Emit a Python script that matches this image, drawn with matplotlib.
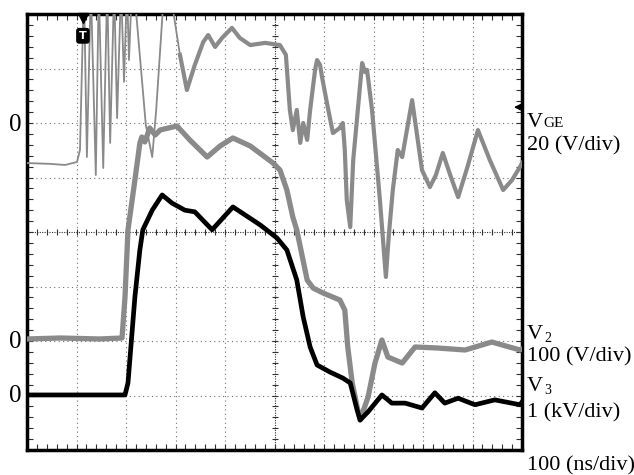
import numpy as np
import matplotlib
matplotlib.use('Agg')
import matplotlib.pyplot as plt

# oscilloscope capture, 100 ns/div, 10 x 8 divisions
# time in ns, voltages in V (V3 in kV)
vge_t = [0, 47, 77, 101, 107, 115, 121, 129, 139, 145, 154, 162, 168, 176, 182, 190, 196, 202, 206, 212,
         216, 240, 253, 261, 275, 285, 295, 309, 323, 339, 356, 366, 380, 394, 414, 430, 451, 481, 511, 523,
         531, 537, 545, 552, 558, 566, 572, 582, 586, 592, 596, 606, 618, 632, 638, 642, 646, 653, 659, 667,
         677, 683, 687, 697, 713, 725, 731, 739, 749, 758, 778, 798, 814, 826, 840, 855, 871, 891, 911, 935,
         962, 980, 996, 1000]
vge_v = [-14.7, -15.0, -15.4, -14.3, -9.9, 50, -12.5, 50, -19.1, 50, -16.5, 50, -7.3, 50, 1.8, 50, 15.1, 50, 23.1, 50,
         50, -0.7, -12.5, 4.8, 43.3, 50, 41.5, 25, 12.1, 21.3, 29.7, 32.3, 27.9, 31.2, 34.9, 31.2, 28.6, 29.4, 28.6, 25,
         4.8, -2.6, 4.8, -7.3, 0, -6.2, 4.8, 19.5, 23.1, 21.3, 16.9, 7.3, -3.7, -1.8, 0, -9.9, -28.3, -38.2, -13.6, 2.2,
         22, 18.7, 19.5, 4.8, -28.3, -56.5, -41.1, -24.6, -9.9, -12.5, 8.4, -17.3, -23.5, -19.1, -11, -19.1, -27.2, -15.4, -2.6, -13.6,
         -24.6, -20.9, -16.1, -14.7]

v2_t = [0, 67, 147, 192, 198, 204, 218, 228, 232, 238, 248, 259, 269, 303, 329, 364, 390, 416, 451, 497,
        511, 525, 537, 545, 566, 578, 598, 632, 642, 648, 657, 667, 673, 689, 703, 717, 729, 758, 784, 830,
        885, 939, 996, 1000]
v2_v = [3.7, 5.5, 3.7, 5.5, 80.7, 203.7, 295.4, 363.3, 374.3, 365.2, 390.8, 378, 387.2, 394.5, 368.8, 337.6, 357.8, 372.5, 357.8, 326.6,
        313.8, 277.1, 227.5, 203.7, 111.9, 97.2, 88.1, 75.2, 56.9, -11, -77.1, -121.1, -145, -102.8, -40.4, 1.8, -29.4, -40.4, -11, -12.9,
        -16.5, -1.9, -16.5, -14.7]

v3_t = [0, 198, 204, 218, 228, 234, 253, 273, 293, 319, 339, 374, 416, 471, 505, 525, 545, 558, 572, 586,
        612, 638, 653, 667, 673, 689, 717, 737, 764, 798, 824, 844, 871, 905, 945, 996, 1000]
v3_kv = [0.01, 0.01, 0.23, 1.81, 2.67, 3.04, 3.40, 3.68, 3.53, 3.40, 3.37, 3.04, 3.46, 3.13, 2.89, 2.67, 2.12, 1.44, 0.89, 0.56,
         0.43, 0.32, 0.23, -0.27, -0.45, -0.30, 0.01, -0.14, -0.14, -0.23, 0.05, -0.14, -0.05, -0.17, -0.08, -0.17, -0.12]

# channel settings: volts per division, ground position in divisions
vge_scale, vge_pos = 20, 2
v2_scale, v2_pos = 100, -2
v3_scale, v3_pos = 1, -3

W, H = 634, 475
fig = plt.figure(figsize=(W / 100, H / 100), dpi=100)
L, R, T, B = 27, 522, 14, 450
ax = fig.add_axes([L / W, 1 - B / H, (R - L) / W, (B - T) / H])
ax.set_xlim(0, 1000)
ax.set_ylim(-4, 4)

# graticule
for k in range(1, 10):
    if k == 5:
        continue
    ax.axvline(k * 100, color='#707070', lw=0.8, ls=(0, (1, 3)), zorder=1)
for k in range(-3, 4):
    if k == 0:
        continue
    ax.axhline(k, color='#707070', lw=0.8, ls=(0, (1, 3)), zorder=1)
ax.axvline(500, color='#303030', lw=0.8, ls=(0, (1, 1.2)), zorder=1)
ax.axhline(0, color='#303030', lw=0.8, ls=(0, (1, 1.2)), zorder=1)
xt = np.arange(20, 1000, 20)
yt = np.arange(-3.8, 4, 0.2)
ax.plot(xt, np.zeros_like(xt), ls='none', marker='|', ms=5, mew=0.8, color='#303030', zorder=1)
ax.plot(np.full_like(yt, 500), yt, ls='none', marker='_', ms=5, mew=0.8, color='#303030', zorder=1)

ax.set_xticks(np.arange(0, 1001, 100))
ax.set_xticks(np.arange(0, 1001, 20), minor=True)
ax.set_yticks(np.arange(-4, 4.01, 1))
ax.set_yticks(np.arange(-4, 4.01, 0.2), minor=True)
ax.tick_params(which='both', direction='in', length=4, width=0.8, top=True, right=True,
               labelbottom=False, labelleft=False, color='#303030')
for s in ax.spines.values():
    s.set_linewidth(2.5)

gray = '#8a8a8a'
vge_div = np.array(vge_v) / vge_scale + vge_pos
split = vge_t.index(309)
ax.plot(vge_t[:split + 1], vge_div[:split + 1], color=gray, lw=1.3, zorder=3)
ax.plot(vge_t[split:], vge_div[split:], color=gray, lw=3.0, zorder=3, solid_joinstyle='round')
ax.plot(v2_t, np.array(v2_v) / v2_scale + v2_pos, color=gray, lw=3.8, zorder=3, solid_joinstyle='round')
ax.plot(v3_t, np.array(v3_kv) / v3_scale + v3_pos, color='black', lw=3.4, zorder=4, solid_joinstyle='round')

# trigger marker
ax.plot([113], [3.93], marker='v', ms=7, color='black', clip_on=False, zorder=6)
ax.text(113, 3.6, 'T', ha='center', va='center', color='white', fontsize=8, fontweight='bold',
        bbox=dict(boxstyle='round,pad=0.2', fc='black', ec='black'), zorder=6)
# trigger level arrow
ax.annotate('', xy=(978, 2.29), xytext=(1000, 2.29),
            arrowprops=dict(arrowstyle='-|>', color='black', lw=1.2, mutation_scale=9), zorder=6)

serif = 'Liberation Serif'
def ftext(x, y, s, size=16, **kw):
    fig.text(x / W, 1 - y / H, s, fontsize=size, family=serif, va='baseline', ha='left', **kw)

# ground markers
ftext(9, 131, '0', size=18)
ftext(9, 348, '0', size=18)
ftext(9, 402, '0', size=18)

ftext(527, 127, 'V', size=16)
ftext(543, 127, 'GE', size=11)
ftext(527, 339, 'V', size=16)
ftext(544, 342, '2', size=10)
ftext(527, 391, 'V', size=16)
ftext(544, 394, '3', size=10)
ftext(527, 150, '20 (V/div)')
ftext(527, 361, '100 (V/div)')
ftext(527, 417, '1 (kV/div)')
ftext(527, 470, '100 (ns/div)')

fig.savefig('out.png', dpi=100)
